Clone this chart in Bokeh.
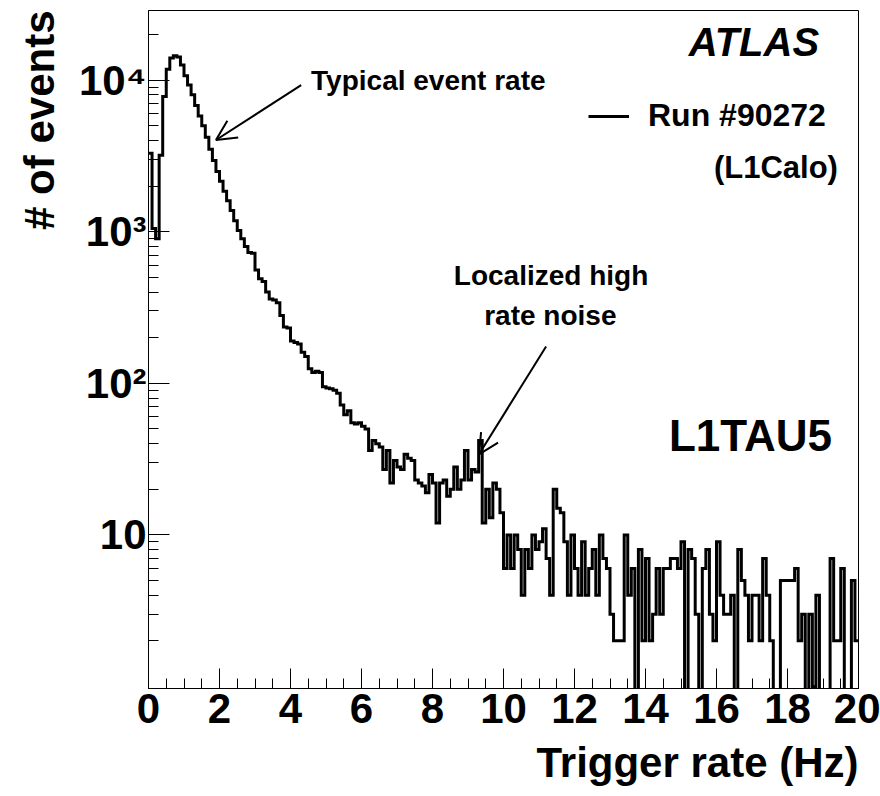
from bokeh.plotting import figure
from bokeh.models import (Range1d, FixedTicker, SingleIntervalTicker, Label, Arrow,
                          OpenHead, Legend, LegendItem, Title)
from bokeh.embed import file_html
from bokeh.resources import INLINE

# ---- data ----
bin_width = 0.1          # Hz
x_min, x_max = 0.0, 20.0
counts_peak = [3300, 1050, 900, 3200, 7800, 11800, 14000, 14500, 14200, 12600,
               10700, 9300, 8000, 6800, 5800, 5000, 4200, 3500, 2950, 2500,
               2150, 1850, 1600, 1380, 1180, 1020, 900, 800, 730, 720,
               560, 490, 470, 400, 360, 355, 340, 280, 235, 232,
               190, 186, 182, 160, 150, 125, 118, 120, 118, 95]
counts_mid = [93, 92, 90, 86, 72, 62, 66, 55, 54, 55,
              52, 50, 36, 42, 40, 38, 27, 36, 22, 31,
              28, 27, 34, 32, 31, 23, 22, 21, 19, 25,
              22, 12, 22, 23, 18, 20, 28, 20, 23, 36,
              23, 27, 26, 42, 12, 20, 13, 22, 20, 14]
counts_tail1 = [6, 10, 6, 10, 8, 4, 8, 6, 10, 8,
                9, 11, 7, 4, 20, 15, 14, 9, 4, 10,
                6, 4, 9, 4, 6, 8, 4, 10, 7, 6,
                3, 2, 2, 2, 10, 4, 6, 0, 8, 2,
                7, 2, 3, 6, 3, 6, 6, 7, 7, 6]
counts_tail2 = [9, 0, 8, 7, 3, 0, 6, 8, 3, 2,
                9, 4, 3, 3, 4, 0, 8, 5, 4, 2,
                4, 4, 2, 7, 4, 2, 0, 0, 5, 5,
                5, 5, 6, 2, 3, 0, 3, 1, 4, 0,
                0, 0, 7, 2, 2, 6, 0, 0, 5, 2]
counts = counts_peak + counts_mid + counts_tail1 + counts_tail2

y_major = [10, 100, 1000, 10000]
y_major_labels = ["10", "10\u00b2", "10\u00b3", "10\u2074"]
y_min, y_max = 0.97, 28800

x_title = "Trigger rate (Hz)"
y_title = "# of events"

# annotation anchors (data coordinates)
atlas_pos = (18.89, 17800)
tau_pos = (14.66, 45.5)
calo_pos = (19.42, 2640)
typ_pos = (4.58, 10000)
typ_arrow = (4.30, 9270, 1.90, 4030)
loc_pos1 = (11.34, 514)
loc_pos2 = (11.32, 280)
loc_arrow = (11.20, 175, 9.31, 34)

# ---- histogram outline as a step path ----
edges = [x_min + i * bin_width for i in range(len(counts) + 1)]
xs, ys = [], []
for i, c in enumerate(counts):
    v = c if c > 0 else y_min * 0.3   # empty bins fall below the log axis
    xs += [edges[i], edges[i + 1]]
    ys += [v, v]

FONT = "Liberation Sans"

p = figure(width=880, height=796, x_range=Range1d(x_min, x_max),
           y_range=Range1d(y_min, y_max), y_axis_type="log",
           output_backend="svg", toolbar_location=None, title=None,
           min_border_left=148, min_border_right=22, min_border_top=10,
           min_border_bottom=106)
p.xgrid.visible = False
p.ygrid.visible = False
p.outline_line_color = "black"
p.outline_line_width = 1
p.background_fill_color = "white"
p.border_fill_color = "white"

hist = p.line(xs, ys, line_color="black", line_width=3, line_join="miter")

# x axis
xa = p.xaxis[0]
xa.ticker = SingleIntervalTicker(interval=2, num_minor_ticks=4)
xa.major_tick_in = 20
xa.major_tick_out = 0
xa.minor_tick_in = 10
xa.minor_tick_out = 0
xa.major_label_standoff = 5
xa.major_label_text_font = FONT
xa.major_label_text_font_style = "bold"
xa.major_label_text_font_size = "42px"
xa.major_label_text_color = "black"

# y axis
minor = [m * 10 ** d for d in range(0, 5) for m in range(2, 10) if m * 10 ** d < y_max]
ya = p.yaxis[0]
ya.ticker = FixedTicker(ticks=y_major, minor_ticks=minor)
ya.major_label_overrides = {t: s for t, s in zip(y_major, y_major_labels)}
ya.major_tick_in = 21
ya.major_tick_out = 0
ya.minor_tick_in = 10
ya.minor_tick_out = 0
ya.major_label_standoff = 2
ya.major_label_text_font = FONT
ya.major_label_text_font_style = "bold"
ya.major_label_text_font_size = "42px"
ya.major_label_text_color = "black"

# axis titles, right-aligned as in ROOT
p.add_layout(Title(text=x_title, align="right", text_font=FONT,
                   text_font_size="42px", text_font_style="bold",
                   text_color="black", standoff=22, offset=0), "below")
p.add_layout(Title(text=y_title, align="right", text_font=FONT,
                   text_font_size="42px", text_font_style="bold",
                   text_color="black", standoff=27, offset=0), "left")

# legend
leg = Legend(items=[LegendItem(label="Run #90272", renderers=[hist])],
             location=(440, 554), glyph_width=41, glyph_height=20,
             label_standoff=19, padding=0, margin=0, border_line_alpha=0,
             background_fill_alpha=0, label_text_font=FONT,
             label_text_font_style="bold", label_text_font_size="32px",
             label_text_color="black")
p.add_layout(leg)


def lab(pos, text, size, align="left", style="bold"):
    p.add_layout(Label(x=pos[0], y=pos[1], text=text, text_font=FONT,
                       text_font_size=size, text_font_style=style,
                       text_align=align, text_baseline="alphabetic",
                       text_color="black"))


lab(atlas_pos, "ATLAS", "40px", "right", "bold italic")
lab(tau_pos, "L1TAU5", "44px")
lab(calo_pos, "(L1Calo)", "31px", "right")
lab(typ_pos, "Typical event rate", "28px")
lab(loc_pos1, "Localized high", "28px", "center")
lab(loc_pos2, "rate noise", "28px", "center")

for (x0, y0, x1, y1) in (typ_arrow, loc_arrow):
    p.add_layout(Arrow(end=OpenHead(size=20, line_width=2, line_color="black"),
                       x_start=x0, y_start=y0, x_end=x1, y_end=y1,
                       line_width=2, line_color="black"))

open("out.html", "w").write(file_html(p, INLINE))
